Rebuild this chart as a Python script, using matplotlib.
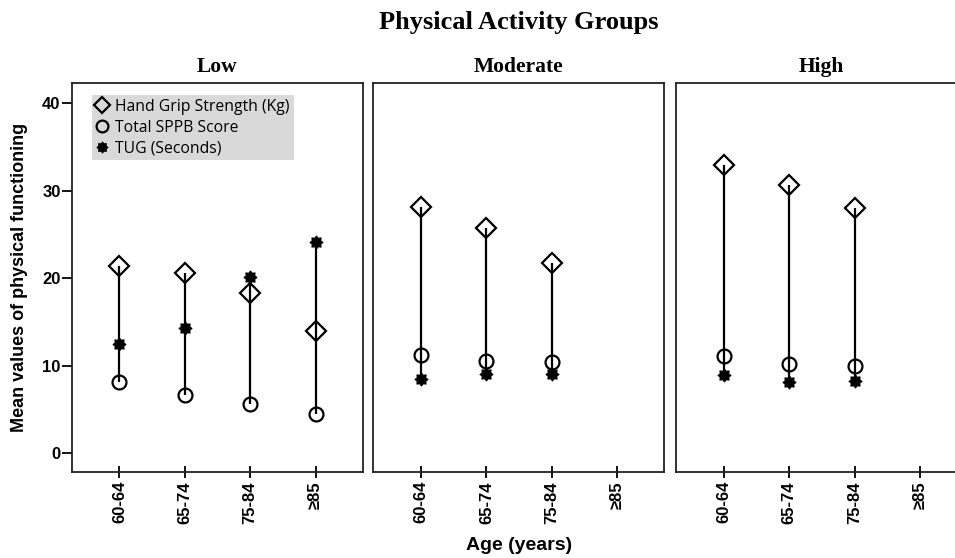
import numpy as np
import matplotlib
matplotlib.use("Agg")
import matplotlib.pyplot as plt
from matplotlib.path import Path

nan = np.nan
ages = ["60-64", "65-74", "75-84", "\u226585"]
groups = ["Low", "Moderate", "High"]

hgs_low = [21.4, 20.6, 18.3, 14.0]
sppb_low = [8.1, 6.7, 5.6, 4.5]
tug_low = [12.5, 14.3, 20.1, 24.1]

hgs_mod = [28.2, 25.8, 21.8, nan]
sppb_mod = [11.2, 10.5, 10.4, nan]
tug_mod = [8.45, 9.1, 9.1, nan]

hgs_high = [32.9, 30.7, 28.0, nan]
sppb_high = [11.1, 10.2, 10.0, nan]
tug_high = [8.9, 8.2, 8.3, nan]

series_labels = ["Hand Grip Strength (Kg)", "Total SPPB Score", "TUG (Seconds)"]
yticks = [0, 10, 20, 30, 40]

panel_data = [
    (hgs_low, sppb_low, tug_low),
    (hgs_mod, sppb_mod, tug_mod),
    (hgs_high, sppb_high, tug_high),
]

W, H = 955, 558
fig = plt.figure(figsize=(W / 100, H / 100), dpi=100)

sans = ["Liberation Sans", "DejaVu Sans"]
serif = ["Liberation Serif", "DejaVu Serif"]

lefts = [71.7, 373.3, 676.0]
pw = 291.0
top_px, bot_px = 83.3, 472.0

burst = Path.unit_regular_star(8, innerCircle=0.72)

x = np.arange(len(ages))
mk = dict(color="black", linestyle="none", markerfacecolor="none",
          markeredgecolor="black", markeredgewidth=1.6, zorder=3)

axes = []
for i, (lp, grp, (hgs, sppb, tug)) in enumerate(zip(lefts, groups, panel_data)):
    ax = fig.add_axes([lp / W, (H - bot_px) / H, pw / W, (bot_px - top_px) / H])
    axes.append(ax)
    hgs_a, sppb_a, tug_a = np.array(hgs), np.array(sppb), np.array(tug)
    stack = np.vstack([hgs_a, sppb_a, tug_a])
    valid = ~np.all(np.isnan(stack), axis=0)
    ax.vlines(x[valid], np.nanmin(stack[:, valid], axis=0), np.nanmax(stack[:, valid], axis=0),
              color="black", linewidth=1.6, zorder=2)
    ax.plot(x, hgs_a, marker="D", markersize=10, label=series_labels[0], **mk)
    ax.plot(x, sppb_a, marker="o", markersize=10, label=series_labels[1], **mk)
    ax.plot(x, tug_a, marker=burst, markersize=9.5, color="black", linestyle="none",
            markerfacecolor="black", markeredgecolor="black", markeredgewidth=0.6,
            label=series_labels[2], zorder=3)
    ax.set_xlim(-0.73, 3.72)
    ax.set_ylim(-2.14, 42.29)
    ax.set_xticks(x)
    ax.set_xticklabels(ages, rotation=90, fontsize=12, fontweight="bold", family=sans)
    ax.tick_params(axis="x", direction="inout", length=9, width=1.3, pad=2)
    if i == 0:
        ax.set_yticks(yticks)
        ax.set_yticklabels([str(v) for v in yticks], fontsize=12, fontweight="bold", family=sans)
        ax.tick_params(axis="y", direction="out", length=7, width=1.3, pad=1)
    else:
        ax.set_yticks([])
    for s in ax.spines.values():
        s.set_linewidth(1.3)
        s.set_color("#222222")
    ax.set_title(grp, fontsize=15.5, fontweight="bold", family=serif, pad=8)

leg = axes[0].legend(loc="upper left", bbox_to_anchor=(0.0687, 0.970), borderaxespad=0,
                     frameon=True, fancybox=False, facecolor="#d9d9d9", edgecolor="none",
                     framealpha=1, handlelength=0.8, handletextpad=0.45, labelspacing=0.3,
                     borderpad=0.25, markerscale=0.85,
                     prop={"family": ["Open Sans", "DejaVu Sans"], "size": 11.3})

fig.text(519 / W, 1 - 22 / H, "Physical Activity Groups", ha="center", va="center",
         fontsize=19, fontweight="bold", family=serif)
fig.text(519 / W, 1 - 545 / H, "Age (years)", ha="center", va="center",
         fontsize=14, fontweight="bold", family=sans)
fig.text(20 / W, 1 - 277.7 / H, "Mean values of physical functioning", ha="center", va="center",
         rotation=90, fontsize=13, fontweight="bold", family=sans)

fig.savefig("out.png", dpi=100)
